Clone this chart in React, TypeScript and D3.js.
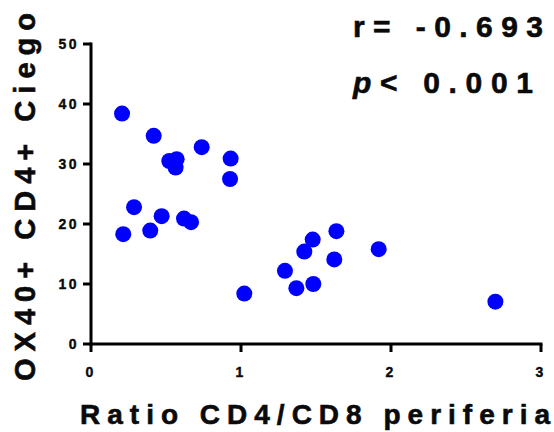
import React from "react";
import * as d3 from "d3";

const ratioCD4CD8 = [0.207, 0.418, 0.522, 0.571, 0.564, 0.738, 0.931, 0.927, 0.287, 0.215, 0.395, 0.471, 0.62, 0.667, 1.022, 1.293, 1.369, 1.482, 1.422, 1.478, 1.636, 1.622, 1.918, 2.696];
const ox40Ciego = [38.4, 34.7, 30.5, 30.8, 29.4, 32.8, 30.9, 27.5, 22.8, 18.3, 18.9, 21.3, 20.9, 20.3, 8.4, 12.2, 9.3, 10.0, 15.4, 17.4, 18.8, 14.1, 15.8, 7.05];
const xTicks = [0, 1, 2, 3];
const yTicks = [0, 10, 20, 30, 40, 50];
const xTitle = "Ratio CD4/CD8 periferia";
const yTitle = "OX40+ CD4+ Ciego";
const rText = "r= -0.693";
const pValue = "< 0.001";

export default function App() {
  const W = 554, H = 432;
  const x = d3.scaleLinear().domain([0, 3]).range([91, 541]);
  const y = d3.scaleLinear().domain([0, 50]).range([344, 44]);
  const font = "Arial, 'Liberation Sans', Helvetica, sans-serif";
  const pts = ratioCD4CD8.map((v, i) => [v, ox40Ciego[i]]);
  const ink = "#0a0a0a";
  return (
    <svg width={W} height={H} style={{ position: "absolute", left: 0, top: 0, background: "#fff" }} fontFamily={font}>
      <line x1={x(0)} x2={x(0)} y1={y(50) - 1.5} y2={y(0) + 1.5} stroke="#000" strokeWidth={3} />
      <line x1={x(0) - 1.5} x2={x(3) + 1.5} y1={y(0)} y2={y(0)} stroke="#000" strokeWidth={3} />
      {yTicks.map((t) => (
        <g key={"y" + t}>
          <line x1={x(0) - 8} x2={x(0)} y1={y(t)} y2={y(t)} stroke="#000" strokeWidth={3} />
          <text x={x(0) - 12} y={y(t) + 5} textAnchor="end" fontSize={14} fontWeight="bold" letterSpacing={2.5} fill={ink} stroke={ink} strokeWidth={0.4}>
            {t}
          </text>
        </g>
      ))}
      {xTicks.map((t) => (
        <g key={"x" + t}>
          <line x1={x(t)} x2={x(t)} y1={y(0)} y2={y(0) + 8} stroke="#000" strokeWidth={3} />
          <text x={x(t) - 1.5} y={377} textAnchor="middle" fontSize={14} fontWeight="bold" fill={ink} stroke={ink} strokeWidth={0.4}>
            {t}
          </text>
        </g>
      ))}
      {pts.map(([a, b], i) => (
        <circle key={i} cx={x(a)} cy={y(b)} r={8} fill="#0000ff" />
      ))}
      <text x={80} y={424} fontSize={28} fontWeight="bold" textLength={470} lengthAdjust="spacing" fill={ink} stroke={ink} strokeWidth={0.6}>
        {xTitle}
      </text>
      <text transform="translate(35,381) rotate(-90)" x={0} y={0} fontSize={29} fontWeight="bold" textLength={368} lengthAdjust="spacing" fill={ink} stroke={ink} strokeWidth={0.6}>
        {yTitle}
      </text>
      <text x={353} y={37} fontSize={30} fontWeight="bold" textLength={190} lengthAdjust="spacing" fill={ink} stroke={ink} strokeWidth={0.6}>
        {rText}
      </text>
      <text x={353} y={93} fontSize={30} fontWeight="bold" textLength={180} lengthAdjust="spacing" fill={ink} stroke={ink} strokeWidth={0.6}>
        <tspan fontStyle="italic">p</tspan>
        {pValue}
      </text>
    </svg>
  );
}
